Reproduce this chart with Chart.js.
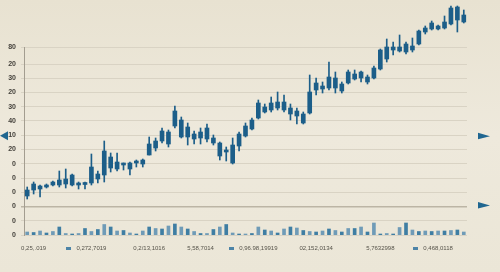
<!DOCTYPE html>
<html><head><meta charset="utf-8">
<script src="https://cdn.jsdelivr.net/npm/chart.js@4.4.1/dist/chart.umd.min.js"></script>
<style>
html,body{margin:0;padding:0;width:500px;height:272px;overflow:hidden;background:linear-gradient(180deg,#e8e2d1 0%,#eee9dc 50%,#ebe6d7 100%);}
canvas{display:block;}
</style></head><body>
<canvas id="c" width="500" height="272"></canvas>
<script>
const categories = ['1','2','3','4','5','6','7','8','9','10','11','12','13','14','15','16','17','18','19','20','21','22','23','24','25','26','27','28','29','30','31','32','33','34','35','36','37','38','39','40','41','42','43','44','45','46','47','48','49','50','51','52','53','54','55','56','57','58','59','60','61','62','63','64','65','66','67','68','69'];
const openVals  = [39,45,49,48,50,50,51,50,52,50.5,52,61,60,78,73,70,72,72,71,80,94,94,103,109,115,108,101,97,96,97,92,85,72,89,99,106,117,128,125,127,125,127,124,121,122,145,149,147,147,151,152,161,157,158,157,166,176,188,184,183,189,191,203,206,209,207,211,228,220];
const closeVals = [45,51,46,50,53,55,56,60,50,52.5,68,56,84,67,66,72,66,74,75,91,87,104,91,124,98,98,96,103,107,92,79,83,90,101,109,115,132,123,132,133,133,121,119,112,143,152,146,158,157,144,163,156,163,153,167,185,188,185,188,191,185,204,207,212,206,213,227,215,213];
const highVals  = [48,53,50,51,54,64,66,61,53,53,81,64,94,82,82,72,73,75,76,98,97,107,105,129,118,112,104,107,111,100,93,88,97,103,112,117,135,131,138,143,140,131,127,123,160,157,153,173,163,153,165,165,164,160,169,186,196,193,200,193,197,205,209,214,210,219,229,229,225];
const lowVals   = [36,41,38,47,49,48,47,49,46,46,50,52,53,63,64,65,60,68,68,80,84,92,88,107,97,90,91,91,93,90,75,74,71,84,98,105,116,122,123,125,123,115,111,111,121,140,142,145,142,142,151,155,153,151,156,165,173,180,183,181,183,190,201,205,205,206,210,203,212];
const volumeVals = [3,2.5,4,2,3.5,8,1.5,1,1.5,6.5,3.5,5.5,10.5,8,4,4.5,2,1,4,8,6.5,6,9,11,8,6,3.5,1.5,1.5,5.5,8,10.5,2,1,1,1.5,8,5,4,2,6,8,7,4.5,3.5,3,4,6,4.5,3,6.5,6.5,8,3,12,1,1.5,1,7.5,12,5,3.5,4,3.5,4,4,4.5,5,3];
const yTickValues = [0,14.25,28.5,42.75,57,71.25,85.5,99.75,114,128.25,142.5,156.75,171,188];
const yTickLabels = ['0','0','0','0','0','0','20','10','40','30','20','30','20','80'];
const xTickIndex = [1,10,19,27,36,45,55,64];
const xTickLabels = ['0,25,.019','0,272,7019','0,2/13,1016','5,58,7014','0,96.98,19919','02,152,0134','5,7632998','0,468,0118'];
const xTickMarked = [false,true,false,false,true,false,false,true];

const CANDLE = '#1c5e89';
const bodies = openVals.map((o,i)=>[o, closeVals[i]]);
const wicks = lowVals.map((l,i)=>[l, highVals[i]]);

Chart.defaults.font.family = '"Liberation Sans", Arial, sans-serif';

const deco = {
  id: 'deco',
  afterDraw(chart){
    const ctx = chart.ctx, xs = chart.scales.x, ys = chart.scales.y, area = chart.chartArea;
    ctx.save();
    ctx.font = '6px "Liberation Sans", Arial, sans-serif';
    const labelMid = xs.top + 10 + 3.6;
    xTickIndex.forEach((idx,k)=>{
      if(!xTickMarked[k]) return;
      const w = ctx.measureText(xTickLabels[k]).width;
      const px = xs.getPixelForValue(idx);
      ctx.fillStyle = '#4d84a7';
      ctx.fillRect(Math.round(px - w/2 - 10), Math.round(labelMid - 1.5), 5, 3);
    });
    ctx.fillStyle = '#1f6690';
    const yA = ys.getPixelForValue(yTickValues[7]);
    const yB = ys.getPixelForValue(yTickValues[2]);
    ctx.beginPath(); ctx.moveTo(0, yA + 0.5); ctx.lineTo(8, yA - 4); ctx.lineTo(8, yA + 5); ctx.closePath(); ctx.fill();
    [yA + 1, yB - 1].forEach(yy=>{
      const x0 = area.right + 11;
      ctx.beginPath(); ctx.moveTo(x0, yy - 3.5); ctx.lineTo(x0 + 12, yy); ctx.lineTo(x0, yy + 3); ctx.closePath(); ctx.fill();
    });
    ctx.restore();
  }
};

new Chart(document.getElementById('c'), {
  type: 'bar',
  data: {
    labels: categories,
    datasets: [
      { label: 'body', data: bodies, backgroundColor: CANDLE, barThickness: 4, grouped: false, clip: false, yAxisID: 'y', order: 0 },
      { label: 'wick', data: wicks, backgroundColor: CANDLE, barThickness: 1, grouped: false, clip: false, yAxisID: 'y', order: 1 },
      { label: 'volume', data: volumeVals, backgroundColor: (c)=> c.dataIndex % 2 ? '#3f7ea3' : '#6f9bb7', barThickness: 3, grouped: false, yAxisID: 'yv', order: 2 }
    ]
  },
  options: {
    responsive: false,
    animation: false,
    events: [],
    layout: { padding: { top: 47, right: 33, left: 0, bottom: 0 } },
    plugins: { legend: { display: false }, tooltip: { enabled: false } },
    scales: {
      x: {
        type: 'category',
        offset: true,
        grid: { display: false, drawTicks: false },
        border: { display: false },
        afterFit(s){ s.height = 37; },
        ticks: {
          autoSkip: false, maxRotation: 0, minRotation: 0, padding: 10,
          color: '#555249', font: { size: 6 },
          callback: (v, i) => { const k = xTickIndex.indexOf(i); return k >= 0 ? xTickLabels[k] : ''; }
        }
      },
      y: {
        min: 0, max: 188,
        afterBuildTicks(s){ s.ticks = yTickValues.map(v=>({value: v})); },
        afterFit(s){ s.width = 24; },
        grid: {
          color: (c)=> c.index === 2 ? '#bcb5a5' : '#d9d3c4',
          lineWidth: (c)=> c.index === 2 ? 1.5 : 1,
          tickLength: 3, drawTicks: true
        },
        border: { display: true, color: '#a39d90', width: 1 },
        ticks: {
          padding: 5, color: '#45423c', font: { size: 7, weight: 'bold' },
          callback: (v, i) => yTickLabels[i]
        }
      },
      yv: { display: false, min: 0, max: 188 }
    }
  },
  plugins: [deco]
});
</script>
</body></html>
